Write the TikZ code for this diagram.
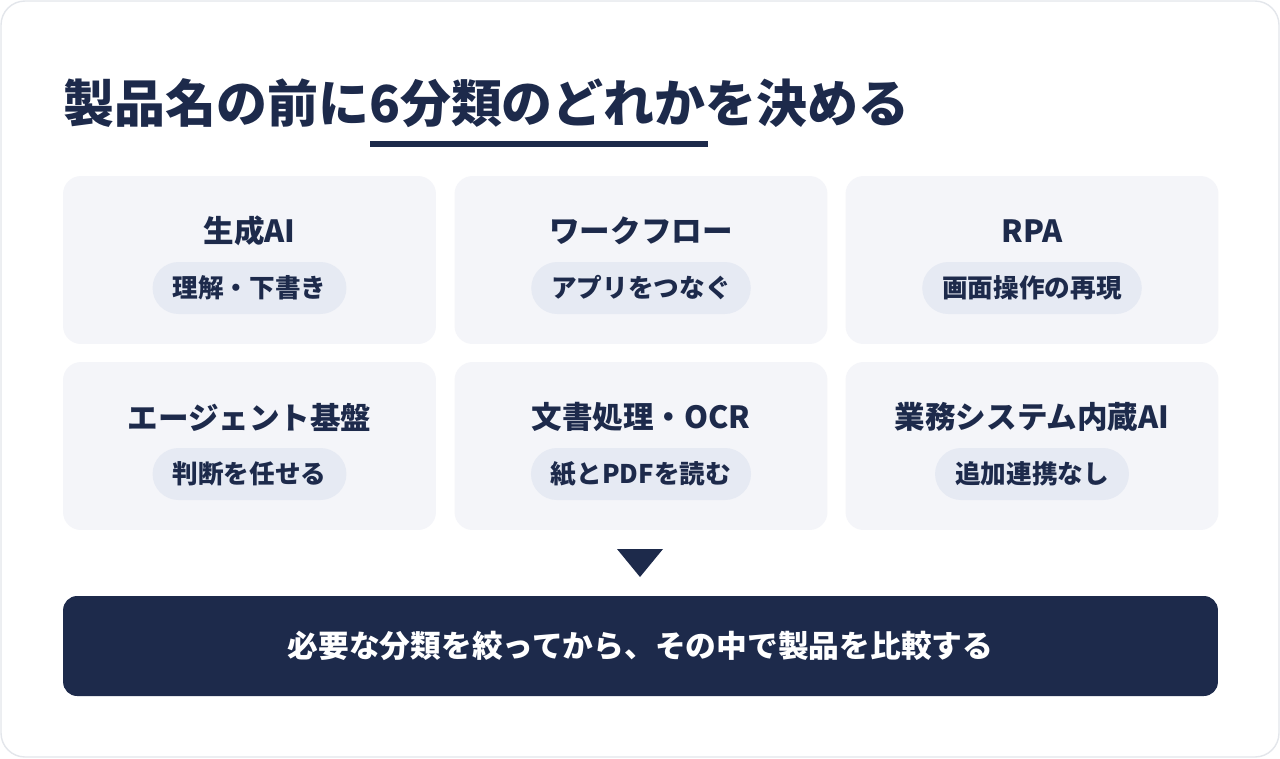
\documentclass[tikz,border=0pt]{standalone}
\usepackage{fontspec}
\setmainfont{Noto Sans CJK JP}
\newfontfamily\heavyfont{Noto Sans CJK JP Black}
\usetikzlibrary{positioning}
\definecolor{navy}{HTML}{1D2A4B}
\definecolor{cardbg}{HTML}{F4F5F9}
\definecolor{pillbg}{HTML}{E6EAF3}
\definecolor{framegray}{HTML}{E3E6EB}
\tikzset{
	card/.style={fill=cardbg, rounded corners=0.36cm, minimum width=7.46cm, minimum height=3.36cm},
	cardtitle/.style={text=navy, inner sep=0pt, font=\fontsize{17.4}{20}\selectfont\bfseries},
	pill/.style={fill=pillbg, text=navy, rounded corners=0.52cm, minimum height=1.04cm, inner xsep=0.4cm, font=\fontsize{14.6}{17}\selectfont\bfseries},
	bar/.style={fill=navy, text=white, rounded corners=0.28cm, minimum width=23.1cm, minimum height=2cm, font=\fontsize{17.5}{20}\selectfont\bfseries},
}

\begin{document}
\begin{tikzpicture}[x=0.02cm, y=-0.02cm]
		%%%%% START %%%%%
		
		\useasboundingbox (0, 0) rectangle (1280, 758);
		\draw[framegray, fill=white, rounded corners=0.48cm, line width=0.8pt] (1, 1) rectangle (1279, 757);
		
		\node[anchor=west, inner sep=0pt, text=navy, font=\fontsize{29}{32}\heavyfont] (title) at (63, 103) {製品名の前に6分類のどれかを決める};
		\draw[navy, line width=0.12cm] (370, 144) -- (708, 144);
		
		\foreach \cx/\cy/\id/\head/\sub in {
			249.5/260/gen/生成AI/理解・下書き,
			641/260/flow/ワークフロー/アプリをつなぐ,
			1032/260/rpa/RPA/画面操作の再現,
			249.5/446/agent/エージェント基盤/判断を任せる,
			641/446/ocr/文書処理・OCR/紙とPDFを読む,
			1032/446/erp/業務システム内蔵AI/追加連携なし}
		{
			\node[card] (card-\id) at (\cx, \cy) {};
			\node[cardtitle] (head-\id) at (\cx, \cy-29) {\head};
			\node[pill] (sub-\id) at (\cx, \cy+28) {\sub};
		}
		
		\fill[navy] (617, 549) -- (663, 549) -- (640, 577) -- cycle;
		
		\node[bar] (summary) at (640.5, 646) {必要な分類を絞ってから、その中で製品を比較する};
		
		%%%%% END %%%%%
	\end{tikzpicture}
\end{document}
